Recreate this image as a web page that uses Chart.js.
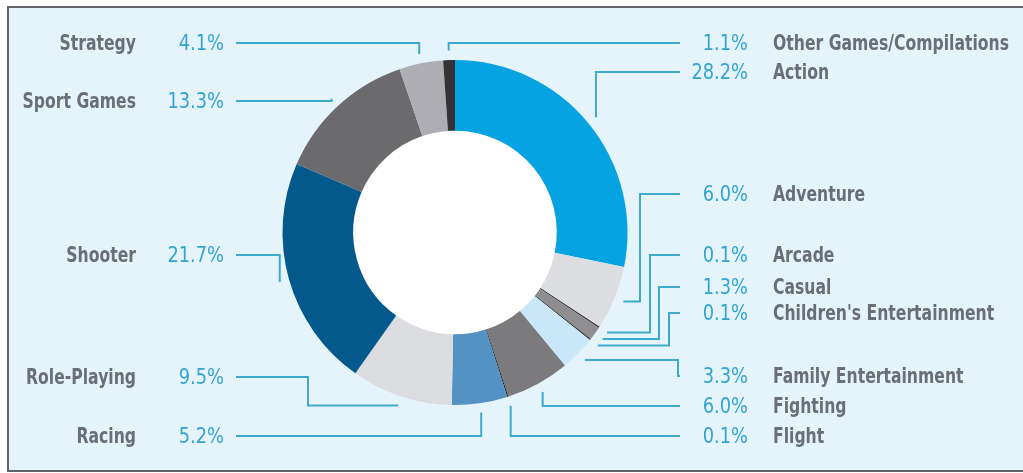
<!DOCTYPE html>
<html>
<head>
<meta charset="utf-8">
<title>Video game sales by genre</title>
<script src="https://cdn.jsdelivr.net/npm/chart.js@4.4.1/dist/chart.umd.min.js"></script>
<style>
  html, body { margin: 0; padding: 0; background: #fff; }
  canvas { display: block; }
</style>
</head>
<body>
<canvas id="genreChart" width="1023" height="473"></canvas>
<script>
// genres in clockwise order starting at 12 o'clock
const genres = [
  "Action", "Adventure", "Arcade", "Casual", "Children's Entertainment",
  "Family Entertainment", "Fighting", "Flight", "Racing", "Role-Playing",
  "Shooter", "Sport Games", "Strategy", "Other Games/Compilations"
];
const shares = [28.2, 6.0, 0.1, 1.3, 0.1, 3.3, 6.0, 0.1, 5.2, 9.5, 21.7, 13.3, 4.1, 1.1];

const sliceColors = [
  "#06a3e2", "#dcdde0", "#1c1c1c", "#8e8e91", "#1c1c1c",
  "#c9e7f8", "#7b7b7e", "#1c1c1c", "#5592c4", "#dadcdf",
  "#03598c", "#6b6b6e", "#adadb3", "#333333"
];

// label layout: which side, text row, and an optional elbow column for the leader
const labelSide = ["R", "R", "R", "R", "R", "R", "R", "R", "L", "L", "L", "L", "L", "R"];
const labelRow  = [72, 194, 255, 287, 313, 376, 406, 436, 436, 377, 255, 101, 43, 43];
const elbowCol  = [null, 640, 650, 659, 669, 678, null, null, null, 308, null, null, null, null];

const FAMILY = "'DejaVu Sans Condensed', 'Liberation Sans', sans-serif";
const NAME_FONT = "bold 22px " + FAMILY;
const PCT_FONT = "22px " + FAMILY;
const NAME_SQUEEZE = 0.79; // narrow the condensed face a bit further
const PCT_SQUEEZE = 0.9;
const NAME_COLOR = "#6a6e75";
const PCT_COLOR = "#33a3d4";
const LINE_COLOR = "#3eaacb";

function squeezedText(ctx, text, x, y, sx) {
  ctx.save();
  ctx.translate(x, y);
  ctx.scale(sx, 1);
  ctx.fillText(text, 0, 0);
  ctx.restore();
}

const panelPlugin = {
  id: 'panel',
  beforeDraw(chart) {
    const { ctx, width, height } = chart;
    ctx.save();
    ctx.fillStyle = "#ffffff";
    ctx.fillRect(0, 0, width, height);
    ctx.fillStyle = "#e5f4fb";
    ctx.fillRect(8, 7, width - 8, 464);
    ctx.strokeStyle = "#5f6368";
    ctx.lineWidth = 2;
    ctx.beginPath();
    ctx.moveTo(width, 7); ctx.lineTo(8, 7); ctx.lineTo(8, 471); ctx.lineTo(width, 471);
    ctx.stroke();
    ctx.restore();
  },
  beforeDatasetsDraw(chart) {
    // white disc inside the ring
    const arc = chart.getDatasetMeta(0).data[0];
    if (!arc) return;
    const { x, y, innerRadius } = arc.getProps(['x', 'y', 'innerRadius'], true);
    const { ctx } = chart;
    ctx.save();
    ctx.fillStyle = "#ffffff";
    ctx.beginPath();
    ctx.arc(x, y, innerRadius + 1, 0, Math.PI * 2);
    ctx.fill();
    ctx.restore();
  }
};

const leaderPlugin = {
  id: 'leaders',
  afterDatasetsDraw(chart) {
    const { ctx } = chart;
    const arcs = chart.getDatasetMeta(0).data;
    ctx.save();
    ctx.textBaseline = "middle";
    ctx.lineWidth = 2;
    ctx.strokeStyle = LINE_COLOR;

    arcs.forEach((arc, i) => {
      const p = arc.getProps(['x', 'y', 'startAngle', 'endAngle', 'outerRadius'], true);
      const mid = (p.startAngle + p.endAngle) / 2;
      const ax = p.x + Math.cos(mid) * (p.outerRadius + 9.5);
      const ay = p.y + Math.sin(mid) * (p.outerRadius + 9.5);
      const ly = labelRow[i];
      const left = labelSide[i] === "L";
      const startX = left ? 236 : 680;

      ctx.beginPath();
      ctx.moveTo(startX, ly);
      if (elbowCol[i] !== null) {
        ctx.lineTo(elbowCol[i], ly);
        ctx.lineTo(elbowCol[i], ay);
        ctx.lineTo(ax, ay);
      } else {
        ctx.lineTo(ax, ly);
        ctx.lineTo(ax, ay);
      }
      ctx.stroke();

      const pct = shares[i].toFixed(1) + "%";
      ctx.textAlign = "right";
      ctx.font = PCT_FONT;
      ctx.fillStyle = PCT_COLOR;
      squeezedText(ctx, pct, left ? 224 : 748, ly + 1, PCT_SQUEEZE);

      ctx.font = NAME_FONT;
      ctx.fillStyle = NAME_COLOR;
      ctx.textAlign = left ? "right" : "left";
      squeezedText(ctx, genres[i], left ? 136 : 773, ly + 1, NAME_SQUEEZE);
    });
    ctx.restore();
  }
};

new Chart(document.getElementById("genreChart"), {
  type: "doughnut",
  data: {
    labels: genres,
    datasets: [{
      data: shares,
      backgroundColor: sliceColors,
      borderWidth: 0,
      hoverOffset: 0
    }]
  },
  options: {
    responsive: false,
    animation: false,
    cutout: "59%",
    layout: { padding: { left: 282.5, right: 395.5, top: 60, bottom: 68 } },
    plugins: {
      legend: { display: false },
      tooltip: { enabled: false }
    }
  },
  plugins: [panelPlugin, leaderPlugin]
});
</script>
</body>
</html>
